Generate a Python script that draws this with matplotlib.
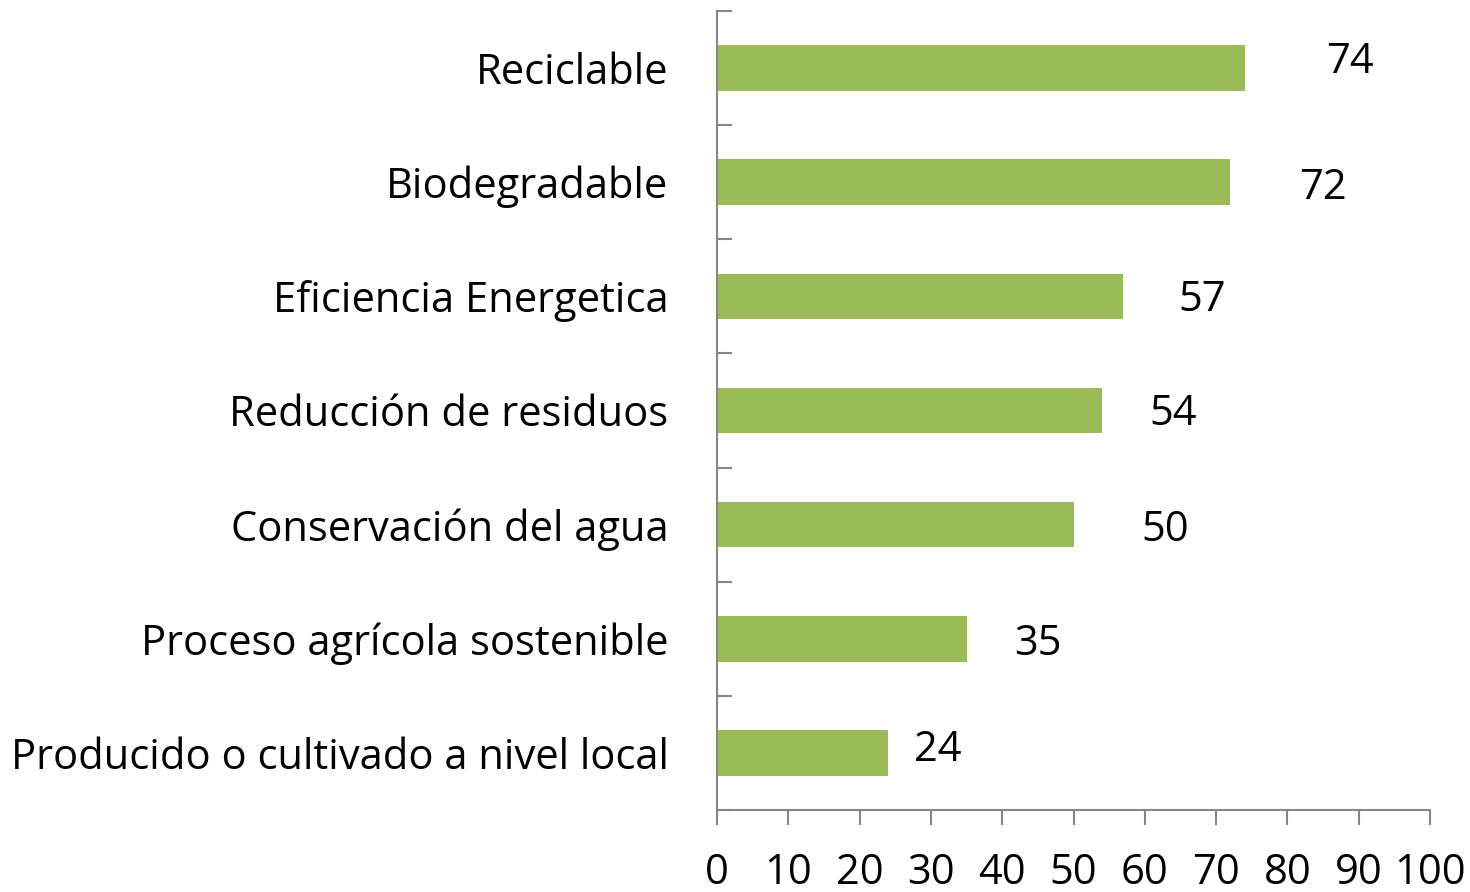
import matplotlib.pyplot as plt
import numpy as np

# data, bottom to top as drawn
categories = ["Producido o cultivado a nivel local", "Proceso agrícola sostenible",
              "Conservación del agua", "Reducción de residuos",
              "Eficiencia Energetica", "Biodegradable", "Reciclable"]
values = [24, 35, 50, 54, 57, 72, 74]
x_ticks = [0, 10, 20, 30, 40, 50, 60, 70, 80, 90, 100]

# hand-placed value labels (offset from bar end / bar centre, in data units)
label_dx = [7, 10, 12.8, 10, 11, 13, 14.8]
label_dy = [0.03, -0.05, -0.05, -0.03, -0.03, -0.05, 0.05]

plt.rcParams['font.family'] = ['Open Sans', 'DejaVu Sans']
fsize = 30
grey = '#868686'

fig = plt.figure(figsize=(14.7, 8.92), dpi=100)
ax = fig.add_axes([717/1470, 1-810/892, (1430-717)/1470, (810-11)/892])

y = np.arange(len(categories))
ax.barh(y, values, height=0.4, color='#9BBB59')

for yi, v, dx, dy in zip(y, values, label_dx, label_dy):
    ax.text(v + dx, yi + dy, str(v), ha='center', va='center', fontsize=fsize)

ax.set_xlim(0, 100)
ax.set_ylim(-0.5, len(categories) - 0.5)
ax.set_xticks(x_ticks)
ax.set_xticklabels([str(t) for t in x_ticks], fontsize=fsize)
ax.set_yticks(y)
ax.set_yticklabels(categories, fontsize=fsize)
ax.set_yticks(np.arange(-0.5, len(categories)), minor=True)

ax.tick_params(axis='y', which='major', length=0, pad=35)
ax.tick_params(axis='y', which='minor', direction='in', length=11, width=1.5, color=grey)
ax.tick_params(axis='x', direction='out', length=11, width=1.5, color=grey, pad=19)

for s in ['top', 'right']:
    ax.spines[s].set_visible(False)
for s in ['left', 'bottom']:
    ax.spines[s].set_color(grey)
    ax.spines[s].set_linewidth(1.5)

fig.savefig('out.png', dpi=100)
